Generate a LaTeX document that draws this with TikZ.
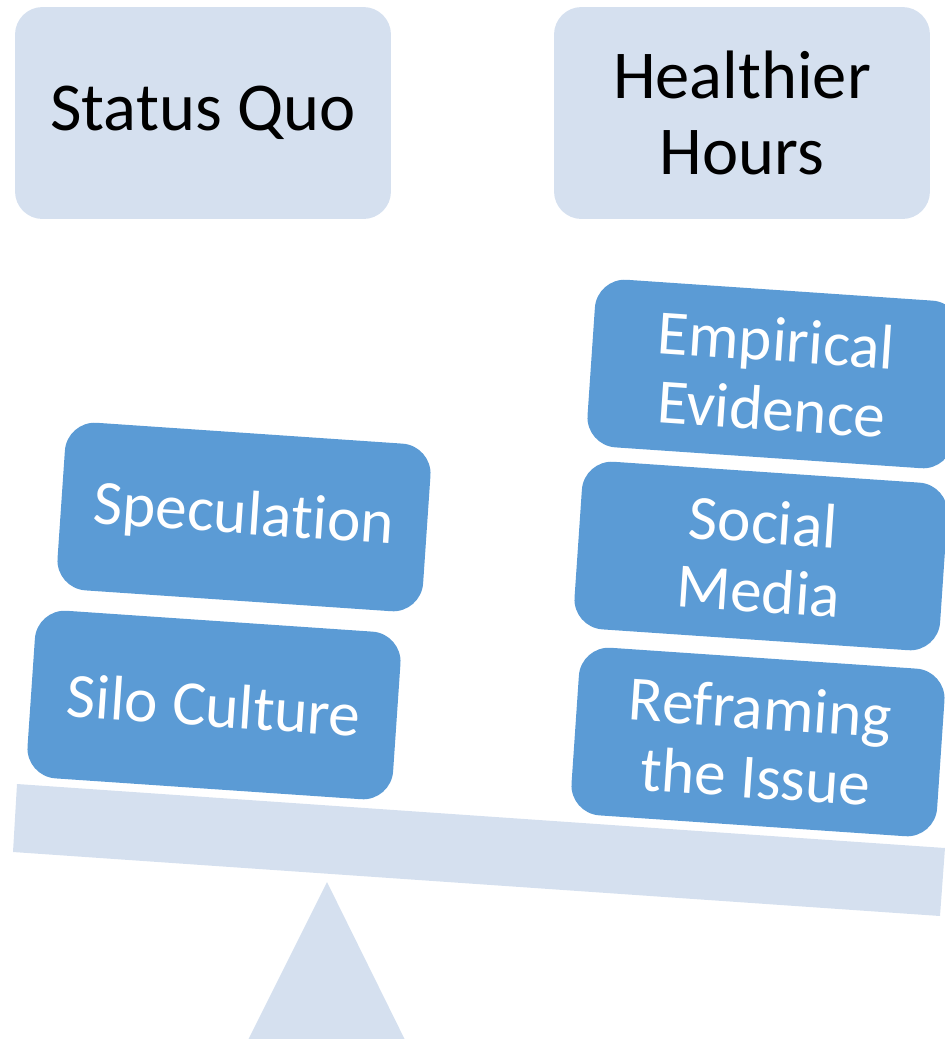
\documentclass[tikz,border=0pt]{standalone}
\usepackage{fontspec}
\setmainfont{Carlito}[Ligatures={NoCommon,NoContextual}, Contextuals=NoAlternate]

\definecolor{scalepale}{HTML}{D5E0EF}
\definecolor{weightblue}{HTML}{5B9BD5}

\tikzset{
    sidebox/.style={fill=scalepale, rounded corners=0.55cm, inner sep=0pt,
        minimum width=7.52cm, minimum height=4.24cm, align=center,
        font=\fontsize{39}{43}\selectfont},
    weightbox/.style={fill=weightblue, text=white, rounded corners=0.6cm, inner sep=0pt,
        minimum width=7.33cm, minimum height=3.36cm, align=center, rotate=-3.9,
        font=\fontsize{36}{39.5}\selectfont}
}

\begin{document}
\begin{tikzpicture}[x=0.02cm, y=-0.02cm]
    \clip (0,0) rectangle (945,1039);

    % Sides
    \node[sidebox] (quo) at (203,113) {Status Quo};
    \node[sidebox] (healthy) at (742,113) {Healthier\\Hours};

    % Fulcrum and beam
    \fill[scalepale] (327,882) -- (410,1050) -- (243,1050) -- cycle;
    \fill[scalepale] (17,784) -- (945,848) -- (940,916) -- (13,852) -- cycle;

    % Left weights
    \node[weightbox] (silo) at (214,705) {Silo Culture};
    \node[weightbox] (spec) at (244,517) {Specula\kern0pt tion};

    % Right weights
    \node[weightbox] (reframe) at (758,742) {Reframing\\the Issue};
    \node[weightbox] (social) at (761,556) {Social\\Media};
    \node[weightbox] (evidence) at (774,374) {Empirical\\Evidence};
\end{tikzpicture}
\end{document}
